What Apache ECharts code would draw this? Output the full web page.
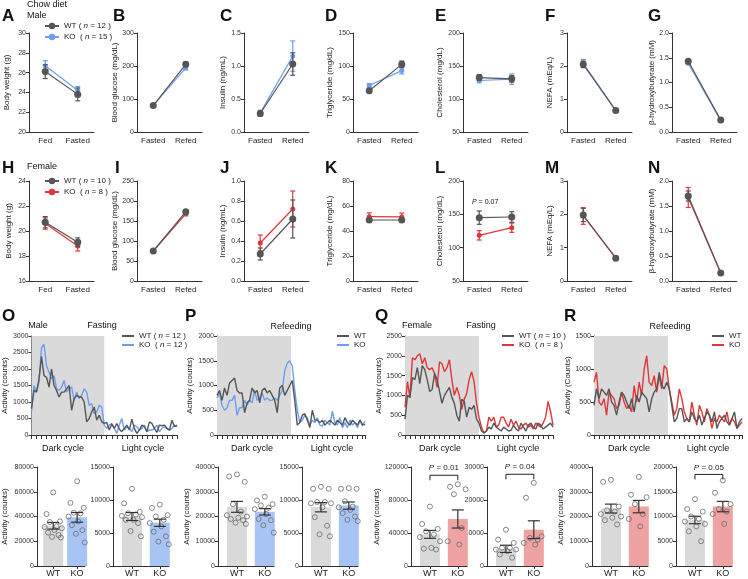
<!DOCTYPE html>
<html>
<head>
<meta charset="utf-8">
<title>Chow diet - fasting / refeeding</title>
<script src="https://cdn.jsdelivr.net/npm/echarts@6/dist/echarts.min.js"></script>
<style>
  html, body { margin: 0; padding: 0; background: #fff; }
  #chart { width: 748px; height: 579px; }
</style>
</head>
<body>
<div id="chart"></div>
<script>
// ---------------- data ----------------
const fedCats = ['Fed', 'Fasted'];
const refedCats = ['Fasted', 'Refed'];

// male panels, each point is [mean, sem]
const maleWeightWT = [[26.1, 0.7], [23.8, 0.65]];
const maleWeightKO = [[26.7, 0.5], [24.2, 0.4]];
const maleGlucoseWT = [[80, 3], [205, 7]];
const maleGlucoseKO = [[81, 3], [194, 6]];
const maleInsulinWT = [[0.28, 0.04], [1.03, 0.17]];
const maleInsulinKO = [[0.29, 0.04], [1.15, 0.23]];
const maleTgWT = [[62.5, 2.5], [102.5, 5]];
const maleTgKO = [[70.5, 3], [93, 5]];
const maleCholWT = [[132.5, 4.5], [130.5, 5]];
const maleCholKO = [[128, 3.5], [130, 8]];
const maleNefaWT = [[2.05, 0.1], [0.65, 0.04]];
const maleNefaKO = [[2.08, 0.12], [0.66, 0.04]];
const maleBhbWT = [[1.43, 0.03], [0.24, 0.02]];
const maleBhbKO = [[1.39, 0.03], [0.23, 0.02]];

// female panels
const femWeightWT = [[20.7, 0.45], [19.1, 0.35]];
const femWeightKO = [[20.6, 0.45], [18.8, 0.4]];
const femGlucoseWT = [[75, 3], [173, 5]];
const femGlucoseKO = [[75, 3], [168, 5]];
const femInsulinWT = [[0.27, 0.06], [0.62, 0.19]];
const femInsulinKO = [[0.38, 0.08], [0.72, 0.18]];
const femTgWT = [[48.8, 1.5], [48.8, 1.5]];
const femTgKO = [[51.5, 3], [51.3, 3]];
const femCholWT = [[145, 10], [146, 8]];
const femCholKO = [[118.5, 7], [130, 7]];
const femNefaWT = [[1.98, 0.2], [0.68, 0.04]];
const femNefaKO = [[1.95, 0.25], [0.70, 0.04]];
const femBhbWT = [[1.70, 0.1], [0.16, 0.02]];
const femBhbKO = [[1.67, 0.2], [0.16, 0.02]];

// activity time courses (counts per bin)
const actMaleFastWT = [800,1350,1300,1700,2380,1800,1750,1450,2000,1500,1350,1150,1300,1300,1400,1500,750,1100,1200,1150,1150,1000,400,500,700,850,450,600,400,350,380,150,330,200,350,180,100,200,300,150,480,200,50,150,300,250,100,400,350,200,80,300,280,300,200,150,450,250,300];
const actMaleFastKO = [700,1500,1300,1600,2650,2750,2100,1900,1700,1800,1400,1350,1450,1650,1300,1400,1450,1050,1300,1100,1200,1400,1300,900,950,650,700,900,850,300,200,300,350,200,50,300,500,150,250,200,100,300,250,150,200,300,100,150,150,200,300,100,200,250,200,150,200,300,250];
const actMaleRefedWT = [800,900,700,950,800,1050,1100,1150,900,850,850,450,650,700,950,850,900,650,900,950,850,900,800,700,450,950,1000,800,900,1000,1100,700,200,250,400,430,300,150,500,300,300,250,300,200,250,300,250,200,300,250,200,350,250,200,300,250,200,300,200,220];
const actMaleRefedKO = [750,850,600,500,550,700,700,800,400,550,550,700,600,700,650,900,700,750,850,700,750,700,700,750,700,800,900,1300,1450,1500,1400,900,500,250,300,400,350,200,300,250,350,200,180,300,250,200,480,250,200,350,150,250,150,300,200,250,150,300,200,280];
const actFemFastWT = [400,1000,950,1450,1400,1700,1300,1750,1650,1400,1100,1150,1550,1400,1100,800,1000,1100,1200,950,800,500,350,900,850,450,700,650,750,400,300,100,50,100,200,150,300,200,150,100,200,150,100,120,250,150,100,300,200,100,250,300,200,150,300,250,150,200,250,300,200];
const actFemFastKO = [700,1350,950,1950,1900,2000,2050,1800,1950,1700,1650,1700,1550,1200,1850,1800,1600,1700,1900,1400,1000,1200,1000,650,900,1050,1400,1600,1350,800,450,200,50,100,450,350,450,200,250,450,450,300,200,400,250,350,200,150,250,300,200,250,150,300,250,200,300,450,850,600,250];
const actFemRefedWT = [450,700,550,700,650,600,700,500,450,300,500,650,600,500,400,550,350,600,500,650,600,550,350,550,650,700,950,750,700,800,700,450,200,250,400,400,200,250,200,350,250,200,300,150,250,350,300,200,350,100,200,250,300,200,150,250,350,100,200,250];
const actFemRefedKO = [800,950,500,450,550,300,650,600,550,400,450,650,500,400,450,350,750,500,800,600,1000,1200,800,750,900,650,900,700,1050,1000,700,500,300,400,700,550,350,250,200,500,300,150,450,350,200,400,300,100,250,200,300,250,200,350,150,250,200,100,150,200];

// cumulative activity per animal, plus [mean, sem] of WT and KO
const mFastDarkWT = [59500, 42000, 36000, 35500, 32000, 31500, 30500, 29000, 27000, 25000, 23500, 23000];
const mFastDarkKO = [68500, 51000, 47000, 43000, 42500, 40000, 39000, 36000, 33000, 29000, 26000, 19000];
const mFastDarkStats = [[32500, 2700], [39300, 3900]];
const mFastLightWT = [11700, 9500, 8200, 8000, 7800, 7600, 7400, 7000, 7000, 6500, 5300, 4500];
const mFastLightKO = [9300, 8800, 7700, 7500, 7000, 6500, 6000, 6000, 5200, 4500, 3700, 3300];
const mFastLightStats = [[7500, 600], [6550, 550]];
const mRefedDarkWT = [37000, 36200, 34000, 25000, 22000, 20500, 20000, 19500, 19000, 18500, 17500, 17000];
const mRefedDarkKO = [28000, 26500, 25000, 24500, 23500, 23000, 22000, 21000, 19000, 18500, 16500, 13500];
const mRefedDarkStats = [[23900, 2200], [21900, 1300]];
const mRefedLightWT = [12000, 11700, 11700, 9700, 9700, 9500, 9500, 8900, 7400, 6100, 4800, 4500];
const mRefedLightKO = [11800, 11700, 11700, 9800, 9000, 8900, 8700, 8500, 8000, 7500, 7000, 6800];
const mRefedLightStats = [[8900, 700], [9150, 550]];
const fFastDarkWT = [72000, 51000, 45000, 42000, 38000, 35000, 30000, 22000, 21000, 20000];
const fFastDarkKO = [99000, 96000, 93000, 87000, 46000, 30000, 27000, 26000];
const fFastDarkStats = [[38300, 4800], [57000, 11000]];
const fFastLightWT = [11000, 8000, 7000, 5500, 5500, 5000, 5000, 4500, 3500, 2500];
const fFastLightKO = [25200, 20700, 9000, 8500, 8000, 7000, 6800, 6500];
const fFastLightStats = [[5200, 1100], [11000, 2700]];
const fRefedDarkWT = [34800, 34000, 24000, 22500, 22000, 21000, 20000, 19500, 18500, 16800];
const fRefedDarkKO = [36000, 28800, 27800, 25000, 21000, 19000, 17000, 16000];
const fRefedDarkStats = [[23200, 1800], [24000, 2500]];
const fRefedLightWT = [13500, 11500, 11000, 10000, 9500, 9000, 8500, 8000, 7000, 5000];
const fRefedLightKO = [17300, 14800, 12500, 11500, 11000, 10500, 10000, 8500];
const fRefedLightStats = [[9300, 750], [12000, 1050]];

// ---------------- styling ----------------
const FONT = '"Liberation Sans", Arial, Helvetica, sans-serif';
const GREY = '#555555';
const BLUE = '#6b9ef2';
const RED = '#e0363a';
const AXIS = '#333333';

const grid = [], xAxis = [], yAxis = [], series = [], legend = [], graphic = [];

const plain = v => String(v);

function yAxisCfg(gi, min, max, step, name, gap, fmt) {
  return {
    gridIndex: gi, type: 'value', min: min, max: max, interval: step,
    name: name || '', nameLocation: 'middle', nameGap: gap,
    nameTextStyle: { fontSize: 8, color: '#222', fontFamily: FONT },
    axisLine: { show: true, lineStyle: { color: AXIS, width: 1 } },
    axisTick: { show: true, length: 3, lineStyle: { color: AXIS } },
    axisLabel: { fontSize: 7, color: '#333', margin: 3, fontFamily: FONT, formatter: fmt || plain },
    splitLine: { show: false }
  };
}

// vertical mean +/- sem bar with caps
function errSeries(gi, data, color, cap, z) {
  return {
    type: 'custom', xAxisIndex: gi, yAxisIndex: gi, z: z, silent: true,
    data: data,
    renderItem: function (params, api) {
      const x = api.value(0), m = api.value(1), s = api.value(2);
      const hi = api.coord([x, m + s]);
      const lo = api.coord([x, m - s]);
      const st = { stroke: color, lineWidth: 1.2 };
      return {
        type: 'group', children: [
          { type: 'line', shape: { x1: hi[0], y1: hi[1], x2: lo[0], y2: lo[1] }, style: st },
          { type: 'line', shape: { x1: hi[0] - cap / 2, y1: hi[1], x2: hi[0] + cap / 2, y2: hi[1] }, style: st },
          { type: 'line', shape: { x1: lo[0] - cap / 2, y1: lo[1], x2: lo[0] + cap / 2, y2: lo[1] }, style: st }
        ]
      };
    }
  };
}

function linePanel(p) {
  const gi = grid.length;
  grid.push({ left: p.left, top: p.top, width: 65, height: p.h });
  xAxis.push({
    gridIndex: gi, type: 'category', data: p.cats, boundaryGap: true,
    axisLine: { lineStyle: { color: AXIS } },
    axisTick: { alignWithLabel: true, length: 3, lineStyle: { color: AXIS } },
    axisLabel: { fontSize: 8, color: '#222', margin: 5, fontFamily: FONT }
  });
  yAxis.push(yAxisCfg(gi, p.min, p.max, p.step, p.name, p.gap, p.fmt));
  const koCol = p.female ? RED : BLUE;
  const tag = p.female ? '-F' : '-M';
  series.push(errSeries(gi, p.ko.map((d, i) => [i, d[0], d[1]]), koCol, 5, 3));
  series.push({
    type: 'line', name: 'KO' + tag, xAxisIndex: gi, yAxisIndex: gi, z: 3,
    data: p.ko.map(d => d[0]), symbol: 'circle', symbolSize: 5,
    itemStyle: { color: koCol }, lineStyle: { color: koCol, width: 1.2 }
  });
  series.push(errSeries(gi, p.wt.map((d, i) => [i, d[0], d[1]]), GREY, 5, 4));
  series.push({
    type: 'line', name: 'WT' + tag, xAxisIndex: gi, yAxisIndex: gi, z: 4,
    data: p.wt.map(d => d[0]), symbol: 'circle', symbolSize: 7,
    itemStyle: { color: GREY }, lineStyle: { color: GREY, width: 1.2 }
  });
}

function tsPanel(p) {
  const gi = grid.length;
  const n = p.wt.length;
  grid.push({ left: p.left, top: 336, width: 148, height: 99 });
  xAxis.push({
    gridIndex: gi, type: 'value', min: 0, max: n - 1, interval: 2,
    axisLine: { lineStyle: { color: AXIS } },
    axisTick: { length: 4, lineStyle: { color: AXIS } },
    axisLabel: { show: false }, splitLine: { show: false }
  });
  yAxis.push(yAxisCfg(gi, 0, p.max, 500, p.name, p.gap));
  series.push({
    type: 'line', name: 'KO' + p.tag, xAxisIndex: gi, yAxisIndex: gi, z: 2,
    data: p.ko.map((v, i) => [i, v]), showSymbol: false, symbol: 'none',
    itemStyle: { color: p.koCol }, lineStyle: { color: p.koCol, width: 1.4 },
    markArea: {
      silent: true, itemStyle: { color: '#dadada' },
      data: [[{ xAxis: 0 }, { xAxis: (n - 1) / 2 }]]
    }
  });
  series.push({
    type: 'line', name: 'WT' + p.tag, xAxisIndex: gi, yAxisIndex: gi, z: 3,
    data: p.wt.map((v, i) => [i, v]), showSymbol: false, symbol: 'none',
    itemStyle: { color: GREY }, lineStyle: { color: GREY, width: 1.4 }
  });
}

const jitter = [0, -0.28, 0.28, -0.14, 0.14, -0.36, 0.36, 0.05, -0.22, 0.22, -0.05, 0.32];

function barPanel(p) {
  const gi = grid.length;
  grid.push({ left: p.left, top: 467, width: 56, height: 99 });
  xAxis.push({
    gridIndex: gi, type: 'value', min: 0.32, max: 2.33,
    axisLine: { lineStyle: { color: AXIS } },
    axisTick: { length: 3, customValues: [1, 2], lineStyle: { color: AXIS } },
    axisLabel: { customValues: [1, 2], fontSize: 9, color: '#222', margin: 3, fontFamily: FONT,
      formatter: v => (v === 1 ? 'WT' : 'KO') },
    splitLine: { show: false }
  });
  yAxis.push(yAxisCfg(gi, 0, p.max, p.step, p.name, p.gap));
  series.push({
    type: 'bar', xAxisIndex: gi, yAxisIndex: gi, barWidth: 20, z: 2, silent: true,
    data: [
      { value: [1, p.stats[0][0]], itemStyle: { color: '#d9d9d9' } },
      { value: [2, p.stats[1][0]], itemStyle: { color: p.koFill } }
    ]
  });
  series.push({
    type: 'scatter', xAxisIndex: gi, yAxisIndex: gi, z: 3, silent: true,
    symbol: 'circle', symbolSize: 5,
    itemStyle: { color: 'rgba(0,0,0,0)', borderColor: '#6a6a6a', borderWidth: 1 },
    data: p.wt.map((v, i) => [1 + jitter[i % jitter.length], v])
      .concat(p.ko.map((v, i) => [2 + jitter[i % jitter.length], v]))
  });
  series.push(errSeries(gi, [[1, p.stats[0][0], p.stats[0][1]], [2, p.stats[1][0], p.stats[1][1]]], '#333', 12, 4));
  if (p.pval) {
    series.push({
      type: 'custom', xAxisIndex: gi, yAxisIndex: gi, z: 4, silent: true,
      data: [[1.5, p.bracket]],
      renderItem: function (params, api) {
        const a = api.coord([1, api.value(1)]);
        const b = api.coord([2, api.value(1)]);
        return {
          type: 'group', children: [
            { type: 'polyline', shape: { points: [[a[0], a[1] + 5], a, b, [b[0], b[1] + 5]] },
              style: { stroke: '#222', lineWidth: 1, fill: null } },
            { type: 'text', x: (a[0] + b[0]) / 2, y: a[1] - 3,
              style: { text: '{i|P} = ' + p.pval, align: 'center', verticalAlign: 'bottom',
                fontSize: 8, fontFamily: FONT, fill: '#222',
                rich: { i: { fontStyle: 'italic', fontSize: 8, fontFamily: FONT } } } }
          ]
        };
      }
    });
  }
}

// ---------------- panels ----------------
const fmt1 = v => v.toFixed(1);
const row1 = 33, row2 = 181;

linePanel({ left: 29, top: row1, h: 99, cats: fedCats, min: 20, max: 30, step: 2, name: 'Body weight (g)', gap: 18, wt: maleWeightWT, ko: maleWeightKO });
linePanel({ left: 137, top: row1, h: 99, cats: refedCats, min: 0, max: 300, step: 100, name: 'Blood glucose (mg/dL)', gap: 17, wt: maleGlucoseWT, ko: maleGlucoseKO });
linePanel({ left: 244, top: row1, h: 99, cats: refedCats, min: 0, max: 1.5, step: 0.5, name: 'Insulin (ng/mL)', gap: 17, fmt: fmt1, wt: maleInsulinWT, ko: maleInsulinKO });
linePanel({ left: 353, top: row1, h: 99, cats: refedCats, min: 0, max: 150, step: 50, name: 'Triglyceride (mg/dL)', gap: 19, wt: maleTgWT, ko: maleTgKO });
linePanel({ left: 463, top: row1, h: 99, cats: refedCats, min: 50, max: 200, step: 50, name: 'Cholesterol (mg/dL)', gap: 19, wt: maleCholWT, ko: maleCholKO });
linePanel({ left: 567, top: row1, h: 99, cats: refedCats, min: 0, max: 3, step: 1, name: 'NEFA (mEq/L)', gap: 13, wt: maleNefaWT, ko: maleNefaKO });
linePanel({ left: 672, top: row1, h: 99, cats: refedCats, min: 0, max: 2, step: 0.5, name: 'β-hydroxybutyrate (mM)', gap: 15, fmt: fmt1, wt: maleBhbWT, ko: maleBhbKO });

linePanel({ female: true, left: 29, top: row2, h: 100, cats: fedCats, min: 16, max: 24, step: 2, name: 'Body weight (g)', gap: 16, wt: femWeightWT, ko: femWeightKO });
linePanel({ female: true, left: 137, top: row2, h: 100, cats: refedCats, min: 0, max: 250, step: 50, name: 'Blood glucose (mg/dL)', gap: 16, wt: femGlucoseWT, ko: femGlucoseKO });
linePanel({ female: true, left: 244, top: row2, h: 100, cats: refedCats, min: 0, max: 1.0, step: 0.2, name: 'Insulin (ng/mL)', gap: 17, fmt: fmt1, wt: femInsulinWT, ko: femInsulinKO });
linePanel({ female: true, left: 353, top: row2, h: 100, cats: refedCats, min: 0, max: 80, step: 20, name: 'Triglyceride (mg/dL)', gap: 19, wt: femTgWT, ko: femTgKO });
linePanel({ female: true, left: 463, top: row2, h: 100, cats: refedCats, min: 50, max: 200, step: 50, name: 'Cholesterol (mg/dL)', gap: 19, wt: femCholWT, ko: femCholKO });
linePanel({ female: true, left: 567, top: row2, h: 100, cats: refedCats, min: 0, max: 3, step: 1, name: 'NEFA (mEq/L)', gap: 13, wt: femNefaWT, ko: femNefaKO });
linePanel({ female: true, left: 672, top: row2, h: 100, cats: refedCats, min: 0, max: 2, step: 0.5, name: 'β-hydroxybutyrate (mM)', gap: 14, fmt: fmt1, wt: femBhbWT, ko: femBhbKO });

tsPanel({ left: 29, max: 3000, name: 'Activity (counts)', gap: 21, tag: '-MF', koCol: BLUE, wt: actMaleFastWT, ko: actMaleFastKO });
tsPanel({ left: 217, max: 2000, name: 'Activity (counts)', gap: 23, tag: '-MR', koCol: BLUE, wt: actMaleRefedWT, ko: actMaleRefedKO });
tsPanel({ left: 405, max: 2500, name: 'Activity (counts)', gap: 21, tag: '-FF', koCol: RED, wt: actFemFastWT, ko: actFemFastKO });
tsPanel({ left: 594, max: 1500, name: 'Activity (Counts)', gap: 21, tag: '-FR', koCol: RED, wt: actFemRefedWT, ko: actFemRefedKO });

const BLUE_FILL = '#a8c4f4', RED_FILL = '#eea2a2';
barPanel({ left: 29, max: 80000, step: 20000, name: 'Activity (counts)', gap: 28, koFill: BLUE_FILL, wt: mFastDarkWT, ko: mFastDarkKO, stats: mFastDarkStats });
barPanel({ left: 113, max: 15000, step: 5000, koFill: BLUE_FILL, wt: mFastLightWT, ko: mFastLightKO, stats: mFastLightStats });
barPanel({ left: 218, max: 40000, step: 10000, name: 'Activity (counts)', gap: 27, koFill: BLUE_FILL, wt: mRefedDarkWT, ko: mRefedDarkKO, stats: mRefedDarkStats });
barPanel({ left: 302, max: 15000, step: 5000, koFill: BLUE_FILL, wt: mRefedLightWT, ko: mRefedLightKO, stats: mRefedLightStats });
barPanel({ left: 411, max: 120000, step: 40000, name: 'Activity (counts)', gap: 30, koFill: RED_FILL, wt: fFastDarkWT, ko: fFastDarkKO, stats: fFastDarkStats, pval: '0.01', bracket: 110000 });
barPanel({ left: 487, max: 30000, step: 10000, koFill: RED_FILL, wt: fFastLightWT, ko: fFastLightKO, stats: fFastLightStats, pval: '0.04', bracket: 27800 });
barPanel({ left: 592, max: 40000, step: 10000, name: 'Activity (counts)', gap: 27, koFill: RED_FILL, wt: fRefedDarkWT, ko: fRefedDarkKO, stats: fRefedDarkStats });
barPanel({ left: 676, max: 20000, step: 5000, koFill: RED_FILL, wt: fRefedLightWT, ko: fRefedLightKO, stats: fRefedLightStats, pval: '0.05', bracket: 18500 });

// ---------------- legends ----------------
function makeLegend(left, top, names, labels, iconRect) {
  const cfg = {
    left: left, top: top, orient: 'vertical', itemGap: iconRect ? 1 : 3,
    itemWidth: iconRect ? 12 : 14, itemHeight: iconRect ? 2 : 8,
    selectedMode: false, padding: 0,
    data: names, formatter: n => labels[names.indexOf(n)],
    textStyle: { fontSize: 8, color: '#222', fontFamily: FONT,
      rich: { i: { fontStyle: 'italic', fontSize: 8, fontFamily: FONT, color: '#222' } } }
  };
  if (iconRect) cfg.icon = 'rect';
  legend.push(cfg);
}
makeLegend(44, 22, ['WT-M', 'KO-M'], ['WT ( {i|n} = 12 )', 'KO  ( {i|n} = 15 )']);
makeLegend(44, 177, ['WT-F', 'KO-F'], ['WT ( {i|n} = 10 )', 'KO  ( {i|n} = 8 )']);
makeLegend(122, 332, ['WT-MF', 'KO-MF'], ['WT ( {i|n} = 12 )', 'KO  ( {i|n} = 12 )'], true);
makeLegend(337, 332, ['WT-MR', 'KO-MR'], ['WT', 'KO'], true);
makeLegend(502, 332, ['WT-FF', 'KO-FF'], ['WT ( {i|n} = 10 )', 'KO  ( {i|n} = 8 )'], true);
makeLegend(712, 332, ['WT-FR', 'KO-FR'], ['WT', 'KO'], true);

// ---------------- free text ----------------
function txt(x, y, s, size, align, bold) {
  graphic.push({
    type: 'text', x: x, y: y, silent: true,
    style: {
      text: s, fill: '#111', fontSize: size, fontFamily: FONT, fontWeight: bold ? 'bold' : 'normal',
      align: align || 'left', verticalAlign: 'middle',
      textAlign: align || 'left', textVerticalAlign: 'middle',
      rich: { i: { fontStyle: 'italic', fontSize: size, fontFamily: FONT } }
    }
  });
}
// panel letters
[['A', 2, 16], ['B', 113, 16], ['C', 220, 16], ['D', 325, 16], ['E', 435, 16], ['F', 545, 16], ['G', 648, 16],
 ['H', 2, 168], ['I', 115, 168], ['J', 220, 168], ['K', 325, 168], ['L', 435, 168], ['M', 545, 168], ['N', 648, 168],
 ['O', 2, 316], ['P', 185, 316], ['Q', 375, 316], ['R', 564, 316]].forEach(l => txt(l[1], l[2], l[0], 17, 'left', true));

txt(27, 5, 'Chow diet', 9);
txt(27, 16, 'Male', 9);
txt(27, 167, 'Female', 9);
txt(472, 202, '{i|P} = 0.07', 7);

txt(38, 326, 'Male', 9, 'center');
txt(102, 326, 'Fasting', 9, 'center');
txt(291, 327, 'Refeeding', 9, 'center');
txt(417, 326, 'Female', 9, 'center');
txt(481, 326, 'Fasting', 9, 'center');
txt(670, 327, 'Refeeding', 9, 'center');

[[63, 143], [252, 332], [440, 518], [629, 708]].forEach(c => {
  txt(c[0], 449, 'Dark cycle', 9, 'center');
  txt(c[1], 449, 'Light cycle', 9, 'center');
});

// ---------------- render ----------------
const chart = echarts.init(document.getElementById('chart'));
chart.setOption({
  animation: false,
  backgroundColor: '#fff',
  textStyle: { fontFamily: FONT },
  grid: grid,
  xAxis: xAxis,
  yAxis: yAxis,
  legend: legend,
  series: series,
  graphic: graphic
});
</script>
</body>
</html>
